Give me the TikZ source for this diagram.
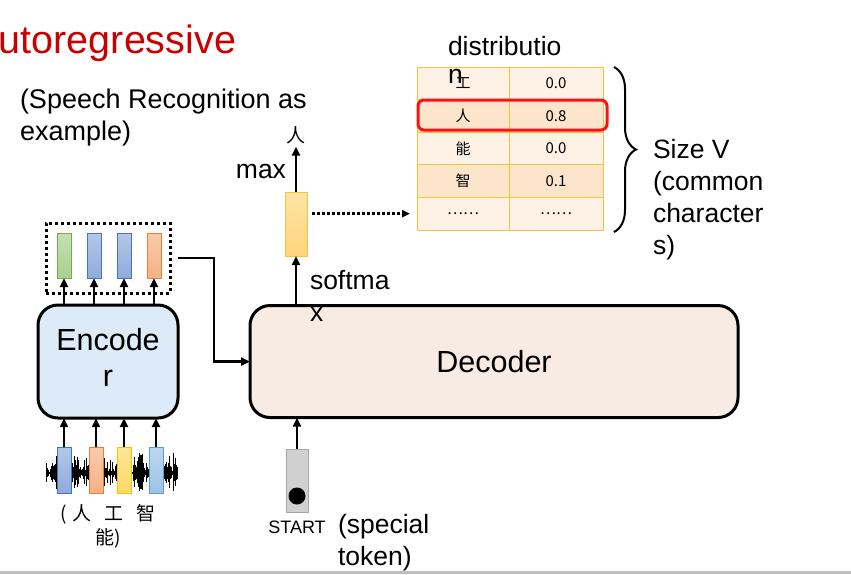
\documentclass[tikz,border=0pt]{standalone}
\usepackage{fontspec}
\setmainfont{Liberation Sans}
\newfontfamily\cjk{Noto Sans CJK SC}
\usetikzlibrary{arrows.meta,decorations.pathreplacing,calc}
\definecolor{titlered}{RGB}{200,0,0}
\definecolor{encfill}{HTML}{DDEAF7}
\definecolor{decfill}{HTML}{F7EBE3}
\definecolor{tabline}{HTML}{F9C23C}
\definecolor{cellA}{HTML}{FEF2E6}
\definecolor{cellB}{HTML}{FDE5CC}
\definecolor{hlred}{HTML}{FF1010}
\definecolor{gA}{HTML}{C5E0B4}\definecolor{gB}{HTML}{A9D18E}\definecolor{gD}{HTML}{70AD47}
\definecolor{bA}{HTML}{B4C7E7}\definecolor{bB}{HTML}{8FAADC}\definecolor{bD}{HTML}{4472C4}
\definecolor{oA}{HTML}{F8CBAD}\definecolor{oB}{HTML}{F4B183}\definecolor{oD}{HTML}{ED7D31}
\definecolor{yA}{HTML}{FFE699}\definecolor{yB}{HTML}{FFD966}\definecolor{yD}{HTML}{FFC000}
\definecolor{lA}{HTML}{BDD7EE}\definecolor{lB}{HTML}{9DC3E6}\definecolor{lD}{HTML}{5B9BD5}
\definecolor{smA}{HTML}{FFE3A6}\definecolor{smB}{HTML}{FFD47C}
\definecolor{stD}{RGB}{166,166,166}
\definecolor{stF}{RGB}{208,208,208}
\definecolor{botline}{RGB}{190,190,190}
\newcommand{\stkl}[1]{\begin{tabular}[t]{@{}l@{}}#1\end{tabular}}
\newcommand{\stkc}[1]{\begin{tabular}[t]{@{}c@{}}#1\end{tabular}}
\begin{document}
\begin{tikzpicture}[x=1pt,y=-1pt,
  every node/.style={inner sep=0pt, outer sep=0pt},
  txt/.style={font=\fontsize{26.5}{32}\selectfont},
  arr/.style={line width=2.6pt, -{Triangle[length=9pt,width=8pt]}},
  vec/.style={rectangle, minimum width=14pt, minimum height=45pt, line width=1pt},
  cell/.style={rectangle, draw=tabline, line width=1pt, minimum height=32.6pt, font=\fontsize{15}{17}\selectfont},
  bigbox/.style={rectangle, draw, line width=3pt, rounded corners=20pt}]
\useasboundingbox (0,0) rectangle (851,574);
\fill[white] (0,0) rectangle (851,574);

% texts
\node[anchor=base east, text=titlered, font=\fontsize{39.5}{42}\selectfont] (title) at (236,53) {utoregressive};
\node[txt, font=\fontsize{27}{32}\selectfont, anchor=base west] (sub) at (20,108) {\stkl{(Speech Recognition as\\example)}};

% table
\foreach \r/\a/\b/\f in {1/工/0.0/cellA, 2/人/0.8/cellB, 3/能/0.0/cellA, 4/智/0.1/cellB, 5/……/……/cellA}{
  \node[cell, fill=\f, minimum width=92pt] (c\r1) at (463,50.7+32.6*\r) {\cjk \a};
  \node[cell, fill=\f, minimum width=94pt] (c\r2) at (556,50.7+32.6*\r) {\cjk \b};
}
\draw[hlred, line width=3pt, rounded corners=6pt] (418,100) rectangle (607,130);
\node[anchor=base west, font=\fontsize{26.5}{28}\selectfont] (dist) at (448,55) {\stkl{distributio\\n}};
\draw[decorate, decoration={brace, amplitude=22pt}, line width=2pt] (614,67) -- (614,232);
\node[txt, anchor=base west] (size) at (653,158) {\stkl{Size V\\(common\\character\\s)}};

% encoder
\node[bigbox, fill=encfill, minimum width=140pt, minimum height=113pt, font=\fontsize{30.5}{36}\selectfont] (enc) at (108,361.5) {\raisebox{-4pt}{\stkc{Encode\\r}}};
\node[rectangle, draw, line width=3pt, dash pattern=on 3pt off 3pt, minimum width=124pt, minimum height=70pt] (encbox) at (108,258) {};
\node[vec, draw=gD, top color=gA, bottom color=gB] (o1) at (64,255.5) {};
\node[vec, draw=bD, top color=bA, bottom color=bB] (o2) at (94,255.5) {};
\node[vec, draw=bD, top color=bA, bottom color=bB] (o3) at (124,255.5) {};
\node[vec, draw=oD, top color=oA, bottom color=oB] (o4) at (154,255.5) {};
\foreach \i in {1,...,4}{\draw[arr] (o\i.south |- enc.north) -- (o\i.south);}

% waveform
\pgfmathsetseed{11}
\foreach \i in {46,46.8,...,178}{
  \pgfmathsetmacro\env{5+16*abs(sin(\i*11))}
  \pgfmathsetmacro\aa{\env*abs(rand)+1}
  \draw[line width=0.8pt] (\i,473-\aa) -- (\i,473+0.9*\aa);
}
\node[vec, minimum height=46pt, draw=bD, top color=bA, bottom color=bB] (i1) at (64,470) {};
\node[vec, minimum height=46pt, draw=oD, top color=oA, bottom color=oB] (i2) at (96,470) {};
\node[vec, minimum height=46pt, draw=yD, top color=yA, bottom color=yB] (i3) at (124,470) {};
\node[vec, minimum height=46pt, draw=lD, top color=lA, bottom color=lB] (i4) at (156,470) {};
\foreach \i in {1,...,4}{\draw[arr] (i\i.north) -- (i\i.north |- enc.south);}
\node[anchor=base, font=\fontsize{19}{24}\selectfont\cjk] (chars) at (108,520) {\stkc{(\hspace{6pt}人\hspace{13pt}工\hspace{13pt}智\\能)}};

% decoder
\node[bigbox, fill=decfill, minimum width=488pt, minimum height=112pt, font=\fontsize{30.5}{36}\selectfont] (dec) at (494,361.5) {Decoder};
\coordinate (bend) at (214,0);
\draw[arr, shorten <=8pt] (encbox.east) -- (encbox.east -| bend) |- (dec.west);

% start token
\node[rectangle, draw=stD, fill=stF, line width=1pt, minimum width=22pt, minimum height=63pt] (start) at (297,480.5) {};
\node[circle, fill=black, minimum size=17pt] (dot) at (297,496) {};
\draw[arr] (start.north) -- (start.north |- dec.south);
\node[anchor=base, font=\fontsize{18}{20}\selectfont] (startlbl) at (297,533) {START};
\node[txt, anchor=base west] (special) at (338,533) {\stkl{(special\\token)}};

% softmax output
\node[rectangle, draw=tabline, top color=smA, bottom color=smB, line width=1pt, minimum width=22pt, minimum height=64pt] (ybox) at (296,224) {};
\draw[arr] (ybox.south |- dec.north) -- (ybox.south);
\node[txt, anchor=base west] (softmax) at (310,289) {\stkl{softma\\x}};
\node[font=\fontsize{19}{20}\selectfont\cjk, inner sep=3pt] (ren) at (296,135) {人};
\draw[arr] (ybox.north) -- (ren.south);
\node[txt, anchor=base east] (max) at (286,178) {max};
\draw[line width=2.5pt, dash pattern=on 2.5pt off 2.5pt, -{Triangle[length=8pt,width=7pt]}, shorten <=5pt, shorten >=7pt] (ybox.east |- c51.west) -- (c51.west);

% bottom line
\fill[botline] (0,570.5) rectangle (851,574);
\end{tikzpicture}
\end{document}
